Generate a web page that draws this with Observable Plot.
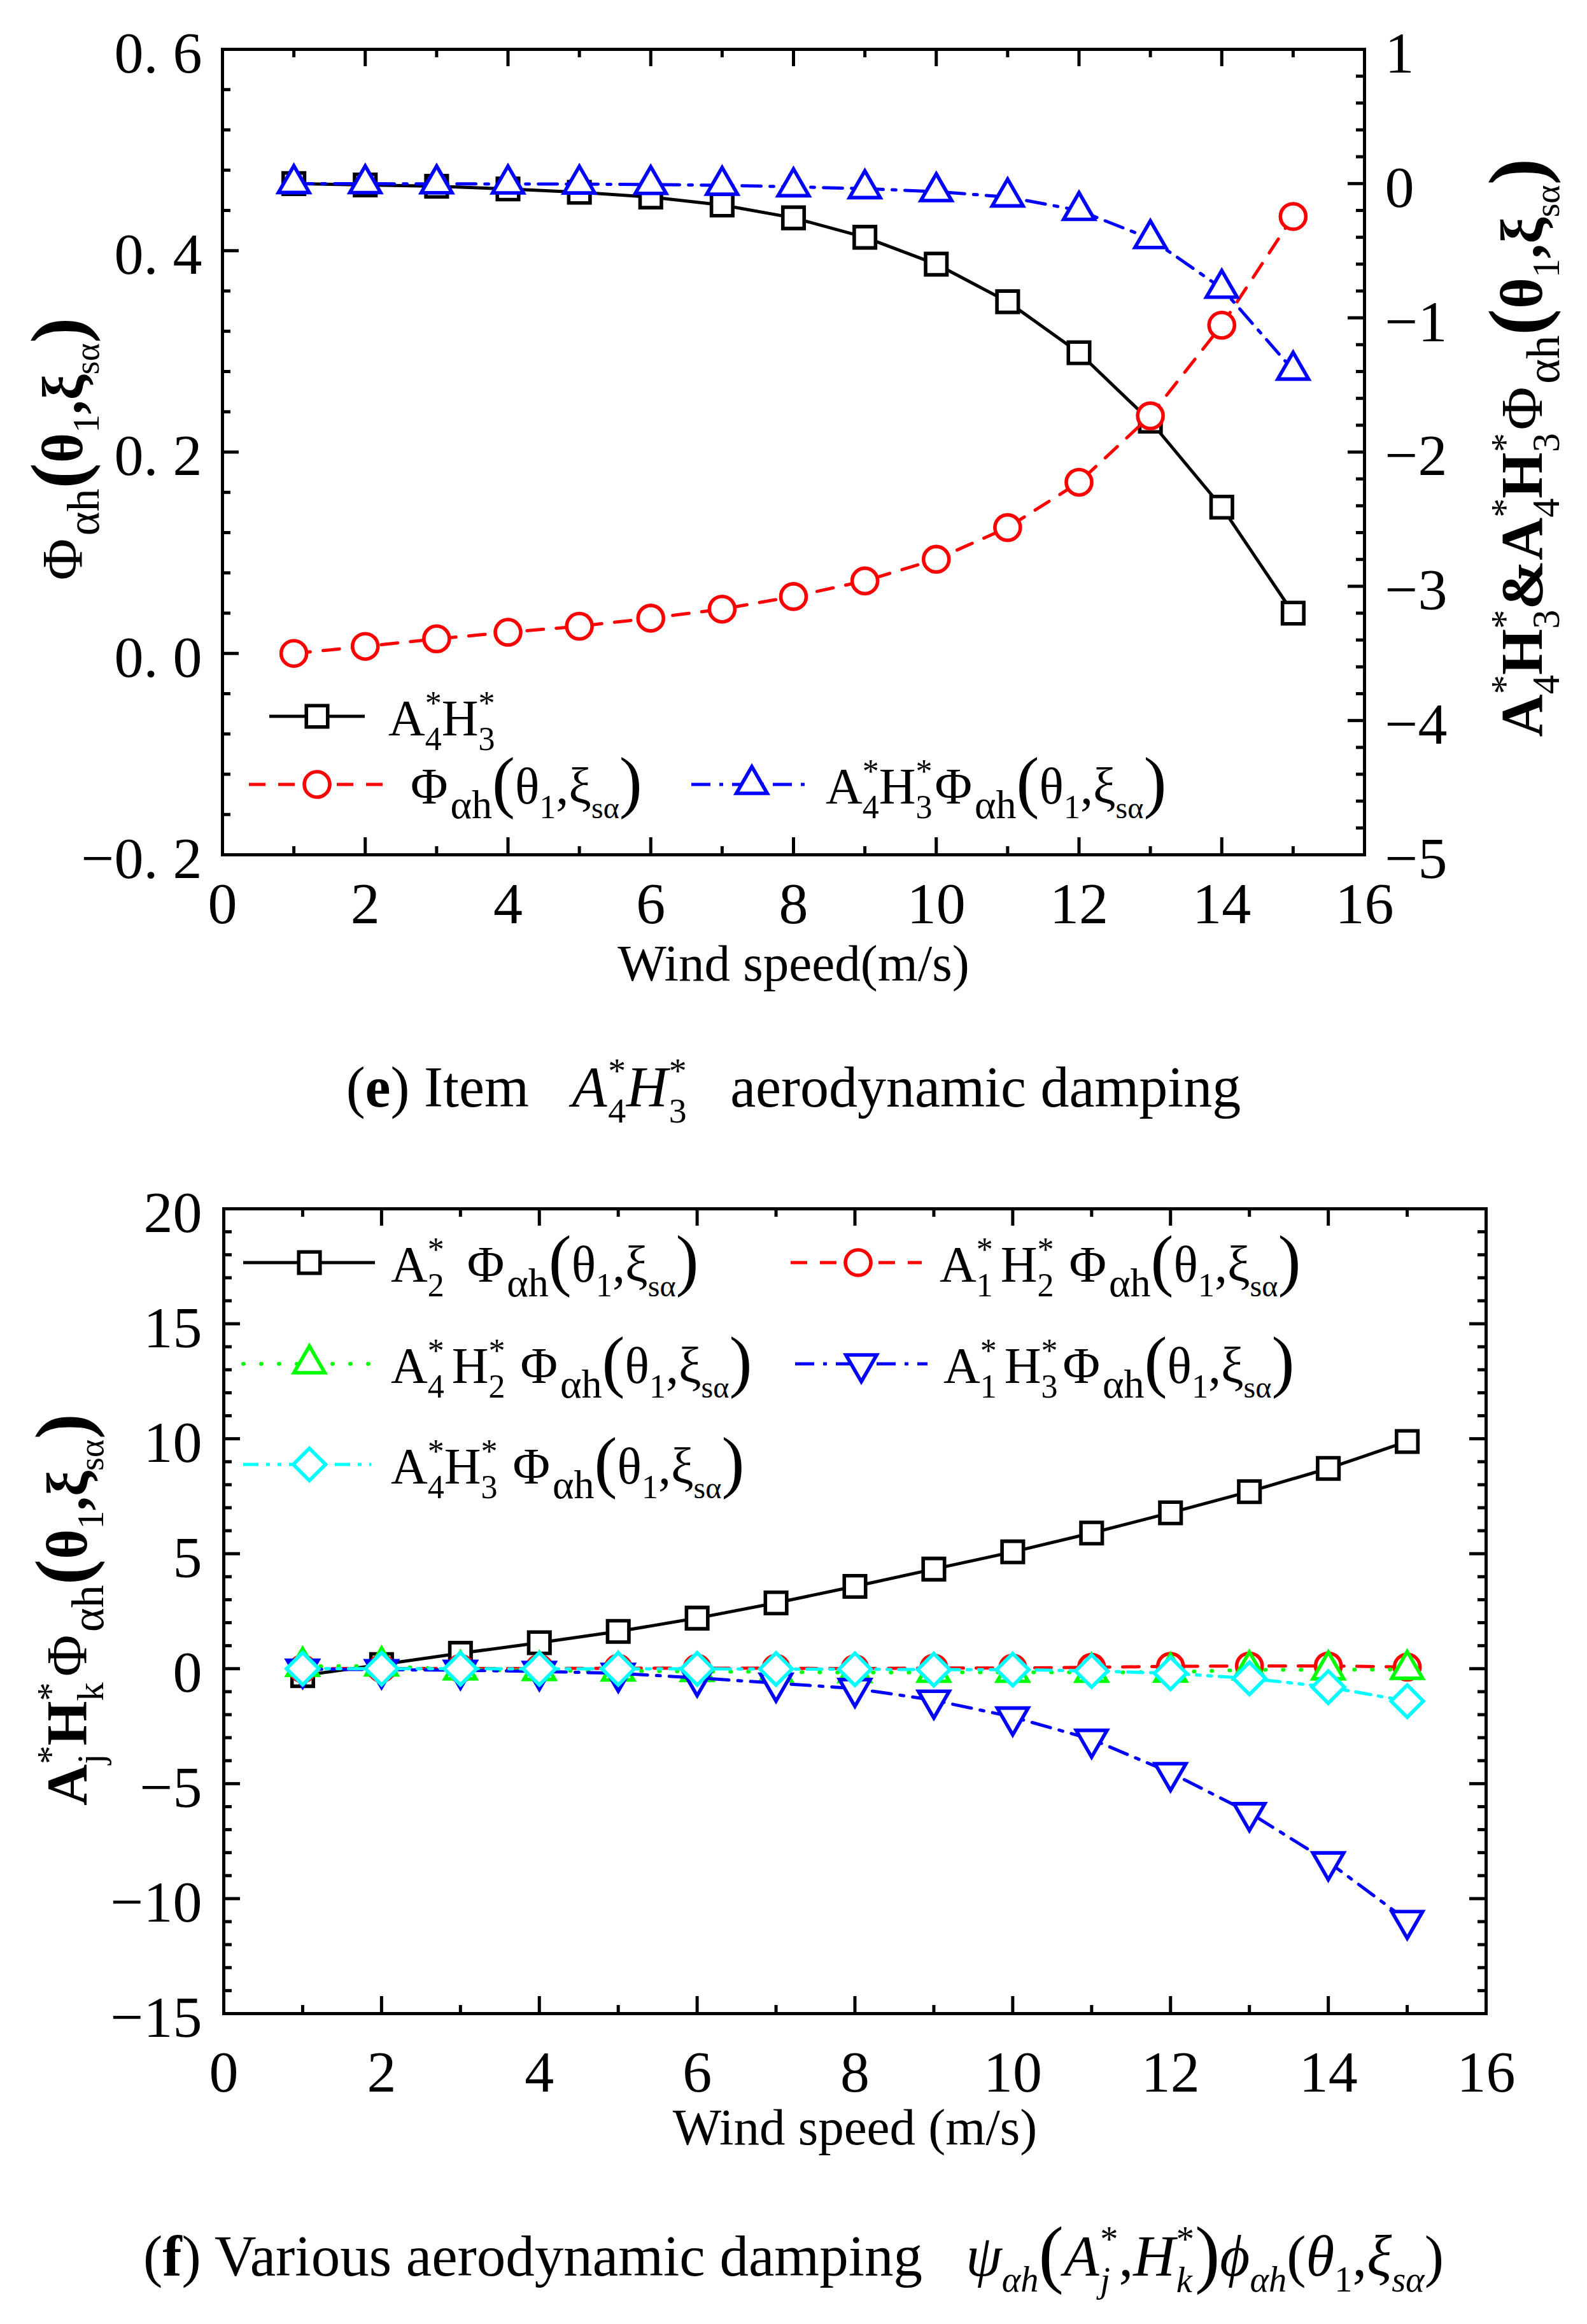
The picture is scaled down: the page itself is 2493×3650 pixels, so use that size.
<!DOCTYPE html>
<html>
<head>
<meta charset="utf-8">
<title>Aerodynamic damping</title>
<script src="https://cdn.jsdelivr.net/npm/d3@7"></script>
<script src="https://cdn.jsdelivr.net/npm/@observablehq/plot@0.6"></script>
<style>
  html, body { margin: 0; padding: 0; background: #ffffff; }
  body { width: 2493px; font-family: "Liberation Serif", "Times New Roman", serif; color: #000; }
  #chartE svg, #chartF svg { display: block; }
  .cap { width: 2493px; display: flex; align-items: center; justify-content: center; white-space: nowrap; line-height: 1; }
  #capE { height: 200px; font-size: 90px; }
  #capF { height: 230px; font-size: 91px; }
  .ss { display: inline-block; position: relative; width: 0.34em; height: 1em; }
  .ss .u { position: absolute; left: 0.03em; top: 0.11em; font-size: 0.62em; line-height: 1; font-style: normal; }
  .ss .d { position: absolute; left: 0.03em; top: 1.24em; font-size: 0.62em; line-height: 1; }
  .sb { font-size: 0.62em; position: relative; top: 0.45em; }
  .bg { font-size: 1.3em; position: relative; top: 0.04em; }
</style>
</head>
<body>
<div id="chartE"></div>
<div class="cap" id="capE"><span>(<b>e</b>) Item&nbsp;&nbsp; <i>A</i><span class="ss"><span class="u">*</span><span class="d">4</span></span><i>H</i><span class="ss"><span class="u">*</span><span class="d">3</span></span>&nbsp;&nbsp; aerodynamic damping</span></div>
<div id="chartF"></div>
<div class="cap" id="capF"><span>(<b>f</b>) Various aerodynamic damping&nbsp;&nbsp; <i>ψ</i><span class="sb"><i>αh</i></span><span class="bg">(</span><i>A</i><span class="ss"><span class="u">*</span><span class="d"><i>j</i></span></span>,<i>H</i><span class="ss"><span class="u">*</span><span class="d"><i>k</i></span></span><span class="bg">)</span><i>ϕ</i><span class="sb"><i>αh</i></span>(<i>θ</i><span class="sb">1</span>,<i>ξ</i><span class="sb"><i>sα</i></span>)</span></div>
<script>
// ---------------- data: panel (e) ----------------
const windSpeed = [1, 2, 3, 4, 5, 6, 7, 8, 9, 10, 11, 12, 13, 14, 15];
// A4*H3* (right axis)
const a4h3 = [0.0, -0.01, -0.02, -0.04, -0.065, -0.10, -0.16, -0.255, -0.40, -0.60, -0.88, -1.26, -1.77, -2.41, -3.20];
// phi_ah(theta1, xi_sa) (left axis)
const phiAh = [0.0, 0.007, 0.0145, 0.021, 0.027, 0.035, 0.044, 0.0565, 0.072, 0.0935, 0.125, 0.170, 0.236, 0.326, 0.434];
// A4*H3* phi_ah (right axis)
const a4h3Phi = [0.0, -0.001, -0.002, -0.003, -0.004, -0.007, -0.013, -0.024, -0.038, -0.06, -0.10, -0.20, -0.41, -0.78, -1.39];

// ---------------- data: panel (f) ----------------
const a2Phi   = [-0.3, 0.18, 0.67, 1.13, 1.62, 2.2, 2.86, 3.58, 4.33, 5.08, 5.9, 6.78, 7.7, 8.71, 9.88];
const a1h2Phi = [0.0, 0.01, 0.01, 0.01, 0.02, 0.02, 0.02, 0.0, 0.03, 0.03, 0.06, 0.1, 0.12, 0.12, 0.07];
const a4h2Phi = [0.1, 0.12, -0.05, -0.08, -0.1, -0.12, -0.14, -0.17, -0.16, -0.16, -0.16, -0.15, -0.05, -0.05, -0.03];
const a1h3Phi = [-0.02, -0.04, -0.07, -0.12, -0.2, -0.4, -0.63, -0.86, -1.37, -2.1, -3.07, -4.52, -6.26, -8.4, -10.95];
const a4h3PhiF = [0.0, -0.001, -0.002, -0.003, -0.005, -0.008, -0.014, -0.025, -0.04, -0.04, -0.1, -0.2, -0.42, -0.8, -1.41];

// ---------------- ticks ----------------
const xTicks = [0, 2, 4, 6, 8, 10, 12, 14, 16];
const xTickLabels = ["0", "2", "4", "6", "8", "10", "12", "14", "16"];
const xMinorTicks = [1, 3, 5, 7, 9, 11, 13, 15];
const eLeftTicks = [-0.2, 0, 0.2, 0.4, 0.6];
const eLeftTickLabels = ["\u22120. 2", "0. 0", "0. 2", "0. 4", "0. 6"];
const eRightTicks = [-5, -4, -3, -2, -1, 0, 1];
const eRightTickLabels = ["\u22125", "\u22124", "\u22123", "\u22122", "\u22121", "0", "1"];
const fYTicks = [-15, -10, -5, 0, 5, 10, 15, 20];
const fYTickLabels = ["\u221215", "\u221210", "\u22125", "0", "5", "10", "15", "20"];
const eLeftMinor = d3.range(0, 21).filter(i => i % 5 !== 0).map(i => -0.2 + i * 0.04);
const eRightMinor = d3.range(0, 31).filter(i => i % 5 !== 0).map(i => -5 + i * 0.2);
const fYMinor = d3.range(-15, 21).filter(v => v % 5 !== 0);

// ---------------- style ----------------
const SW = 5;       // line / frame width
const MSW = 5.6;    // marker outline width
const FS_TICK = 92;
const FS_LAB = 81;
const FS_LEG = 80;
const FS_AX = 90;
const FONT = "'Liberation Serif', 'Times New Roman', serif";
const BLACK = "#000000", RED = "#ff0000", GREEN = "#00ff00", BLUE = "#0000ff", CYAN = "#00ffff";

const triDown = {
  draw(context, size) {
    const y = -Math.sqrt(size / (Math.sqrt(3) * 3));
    context.moveTo(0, -y * 2);
    context.lineTo(-Math.sqrt(3) * y, y);
    context.lineTo(Math.sqrt(3) * y, y);
    context.closePath();
  }
};

const KIND = {n: [1, 0], sub: [0.65, 0.29], sup: [0.65, -0.41], sub2: [0.8, 0.29], sub3: [0.6, 0.29], big: [1.35, 0.03]};
function addRich(g, segs, fs, attrs) {
  const t = g.append("text").attr("font-size", fs).attr("fill", "#000").attr("font-family", FONT).attr("text-anchor", "start");
  Object.entries(attrs).forEach(([k, v]) => t.attr(k, v));
  let cur = 0;
  for (const s of segs) {
    const [size, shift] = KIND[s.k || "n"];
    const sh = shift * fs;
    const sp = t.append("tspan").attr("font-size", (size * fs).toFixed(2)).attr("dy", (sh - cur).toFixed(2)).text(s.t);
    if (s.dx) sp.attr("dx", (s.dx * fs).toFixed(2));
    if (s.b) sp.attr("font-weight", "bold");
    cur = sh;
  }
  return t;
}
const AH = (a, h, o = {}) => [
  {t: "A", b: o.b}, {t: a, k: "sub"}, {t: "*", k: "sup", dx: -0.325},
  {t: "H", b: o.b, dx: o.g1 || 0}, {t: h, k: "sub"}, {t: "*", k: "sup", dx: -0.325}
];
const phiPart = (o = {}) => [
  {t: "\u03A6", dx: o.g || 0}, {t: "\u03B1h", k: "sub2", dx: 0.05},
  {t: "(", k: "big", b: o.b}, {t: "\u03B8", b: o.b}, {t: "1", k: "sub"}, {t: ",", b: o.b},
  {t: "\u03BE", b: o.b}, {t: "s\u03B1", k: "sub3"}, {t: ")", k: "big", b: o.b}
];

function legendItem(g, it) {
  g.append("line")
    .attr("x1", it.x1).attr("x2", it.x2).attr("y1", it.y).attr("y2", it.y)
    .attr("stroke", it.color).attr("stroke-width", it.sw || SW)
    .attr("stroke-dasharray", it.dash || null).attr("stroke-linecap", it.cap || "butt");
  g.append("path")
    .attr("transform", `translate(${it.mx},${it.y})`)
    .attr("d", d3.symbol(it.symbol, Math.PI * it.r * it.r)())
    .attr("fill", "#fff").attr("stroke", it.color).attr("stroke-width", MSW);
  addRich(g, it.segs, FS_LEG, {x: it.tx, y: it.y + 30});
}

function xTickMarks(fh) {
  const o = {stroke: BLACK, strokeWidth: SW};
  return [
    Plot.tickX(xTicks, {x: d => d, insetTop: fh - 27, ...o}),
    Plot.tickX(xTicks, {x: d => d, insetBottom: fh - 27, ...o}),
    Plot.tickX(xMinorTicks, {x: d => d, insetTop: fh - 13, ...o}),
    Plot.tickX(xMinorTicks, {x: d => d, insetBottom: fh - 13, ...o})
  ];
}

// ================= panel (e) =================
const eW = 2493, eH = 1600;
const eM = {top: 77, right: 350, bottom: 258, left: 349};
const eFW = eW - eM.left - eM.right;
const eFH = eH - eM.top - eM.bottom;
const toLeft = d3.scaleLinear([-5, 1], [-0.2, 0.6]);
const eRightPos = eRightTicks.map(v => toLeft(v));
const eRows = windSpeed.map((x, i) => ({x, a4h3: a4h3[i], phi: phiAh[i], prod: a4h3Phi[i]}));

const svgE = Plot.plot({
  width: eW, height: eH,
  marginTop: eM.top, marginRight: eM.right, marginBottom: eM.bottom, marginLeft: eM.left,
  x: {domain: [0, 16]},
  y: {domain: [-0.2, 0.6]},
  style: {fontFamily: FONT, background: "#fff", color: "#000", overflow: "visible"},
  marks: [
    ...xTickMarks(eFH),
    Plot.tickY(eLeftTicks, {y: d => d, insetRight: eFW - 26, stroke: BLACK, strokeWidth: SW}),
    Plot.tickY(eLeftMinor, {y: d => d, insetRight: eFW - 13, stroke: BLACK, strokeWidth: SW}),
    Plot.tickY(eRightPos, {y: d => d, insetLeft: eFW - 26, stroke: BLACK, strokeWidth: SW}),
    Plot.tickY(eRightMinor.map(v => toLeft(v)), {y: d => d, insetLeft: eFW - 13, stroke: BLACK, strokeWidth: SW}),
    Plot.frame({stroke: BLACK, strokeWidth: SW}),
    Plot.axisX({ticks: xTicks, tickFormat: d => xTickLabels[xTicks.indexOf(d)], tickSize: 0, tickPadding: 42, fontSize: FS_TICK, label: null}),
    Plot.axisY({ticks: eLeftTicks, tickFormat: d => eLeftTickLabels[eLeftTicks.indexOf(d)], tickSize: 0, tickPadding: 32, fontSize: FS_TICK, dy: 7, label: null}),
    Plot.axisY({anchor: "right", ticks: eRightPos, tickFormat: d => eRightTickLabels[eRightPos.indexOf(d)], tickSize: 0, tickPadding: 32, fontSize: FS_TICK, dy: 7, label: null}),
    Plot.lineY(eRows, {x: "x", y: d => toLeft(d.a4h3), stroke: BLACK, strokeWidth: SW}),
    Plot.dot(eRows, {x: "x", y: d => toLeft(d.a4h3), symbol: "square", r: 18.9, stroke: BLACK, fill: "#fff", strokeWidth: MSW}),
    Plot.lineY(eRows, {x: "x", y: "phi", stroke: RED, strokeWidth: SW, strokeDasharray: "26,20"}),
    Plot.dot(eRows, {x: "x", y: "phi", symbol: "circle", r: 20, stroke: RED, fill: "#fff", strokeWidth: MSW}),
    Plot.lineY(eRows, {x: "x", y: d => toLeft(d.prod), stroke: BLUE, strokeWidth: SW, strokeDasharray: "30,14,6,14"}),
    Plot.dot(eRows, {x: "x", y: d => toLeft(d.prod), symbol: "triangle", r: 18, stroke: BLUE, fill: "#fff", strokeWidth: MSW}),
    Plot.text(["Wind speed(m/s)"], {text: d => d, frameAnchor: "bottom", lineAnchor: "middle", dy: 172, fontSize: FS_LAB})
  ]
});
document.getElementById("chartE").appendChild(svgE);

const gE = d3.select(svgE).append("g").attr("class", "legend-e");
legendItem(gE, {y: 1125, x1: 423, x2: 573, mx: 498, color: BLACK, symbol: d3.symbolSquare, r: 18.9, tx: 610, segs: AH("4", "3")});
legendItem(gE, {y: 1232, x1: 391, x2: 602, mx: 498, color: RED, dash: "26,20", symbol: d3.symbolCircle, r: 20, tx: 645, segs: phiPart({})});
legendItem(gE, {y: 1232, x1: 1086, x2: 1275, mx: 1181, color: BLUE, dash: "30,14,6,14", symbol: d3.symbolTriangle, r: 18, tx: 1297, segs: [...AH("4", "3"), ...phiPart({g: 0.05})]});
const gEA = d3.select(svgE).append("g").attr("class", "axis-labels-e");
addRich(gEA, phiPart({b: true}), FS_AX, {"text-anchor": "middle", transform: "translate(129,705) rotate(-90)"});
addRich(gEA, [...AH("4", "3", {b: true}), {t: "&", b: true}, ...AH("4", "3", {b: true}), ...phiPart({b: true, g: 0.05})], 93, {"text-anchor": "middle", transform: "translate(2422,703) rotate(-90)"});

// ================= panel (f) =================
const fW = 2493, fH = 1620;
const fM = {top: 98, right: 159, bottom: 258, left: 351};
const fFW = fW - fM.left - fM.right;
const fFH = fH - fM.top - fM.bottom;
const fRows = windSpeed.map((x, i) => ({x, a2: a2Phi[i], a1h2: a1h2Phi[i], a4h2: a4h2Phi[i], a1h3: a1h3Phi[i], a4h3: a4h3PhiF[i]}));

const svgF = Plot.plot({
  width: fW, height: fH,
  marginTop: fM.top, marginRight: fM.right, marginBottom: fM.bottom, marginLeft: fM.left,
  x: {domain: [0, 16]},
  y: {domain: [-15, 20]},
  style: {fontFamily: FONT, background: "#fff", color: "#000", overflow: "visible"},
  marks: [
    ...xTickMarks(fFH),
    Plot.tickY(fYTicks, {y: d => d, insetRight: fFW - 26, stroke: BLACK, strokeWidth: SW}),
    Plot.tickY(fYMinor, {y: d => d, insetRight: fFW - 13, stroke: BLACK, strokeWidth: SW}),
    Plot.tickY(fYTicks, {y: d => d, insetLeft: fFW - 26, stroke: BLACK, strokeWidth: SW}),
    Plot.tickY(fYMinor, {y: d => d, insetLeft: fFW - 13, stroke: BLACK, strokeWidth: SW}),
    Plot.frame({stroke: BLACK, strokeWidth: SW}),
    Plot.axisX({ticks: xTicks, tickFormat: d => xTickLabels[xTicks.indexOf(d)], tickSize: 0, tickPadding: 57, fontSize: FS_TICK, label: null}),
    Plot.axisY({ticks: fYTicks, tickFormat: d => fYTickLabels[fYTicks.indexOf(d)], tickSize: 0, tickPadding: 34, fontSize: FS_TICK, dy: 7, label: null}),
    Plot.lineY(fRows, {x: "x", y: "a2", stroke: BLACK, strokeWidth: SW}),
    Plot.dot(fRows, {x: "x", y: "a2", symbol: "square", r: 18.9, stroke: BLACK, fill: "#fff", strokeWidth: MSW}),
    Plot.lineY(fRows, {x: "x", y: "a1h2", stroke: RED, strokeWidth: SW, strokeDasharray: "26,20"}),
    Plot.dot(fRows, {x: "x", y: "a1h2", symbol: "circle", r: 20, stroke: RED, fill: "#fff", strokeWidth: MSW}),
    Plot.lineY(fRows, {x: "x", y: "a4h2", stroke: GREEN, strokeWidth: 6, strokeDasharray: "1,27", strokeLinecap: "round"}),
    Plot.dot(fRows, {x: "x", y: "a4h2", symbol: "triangle", r: 18, stroke: GREEN, fill: "#fff", strokeWidth: MSW}),
    Plot.lineY(fRows, {x: "x", y: "a1h3", stroke: BLUE, strokeWidth: SW, strokeDasharray: "30,14,6,14"}),
    Plot.dot(fRows, {x: "x", y: "a1h3", symbol: triDown, r: 18, stroke: BLUE, fill: "#fff", strokeWidth: MSW}),
    Plot.lineY(fRows, {x: "x", y: "a4h3", stroke: CYAN, strokeWidth: SW, strokeDasharray: "24,12,6,12,6,12"}),
    Plot.dot(fRows, {x: "x", y: "a4h3", symbol: "diamond2", r: 22.8, stroke: CYAN, fill: "#fff", strokeWidth: MSW}),
    Plot.text(["Wind speed (m/s)"], {text: d => d, frameAnchor: "bottom", lineAnchor: "middle", dy: 180, fontSize: FS_LAB})
  ]
});
document.getElementById("chartF").appendChild(svgF);

const gF = d3.select(svgF).append("g").attr("class", "legend-f");
legendItem(gF, {y: 183, x1: 382, x2: 589, mx: 486, color: BLACK, symbol: d3.symbolSquare, r: 18.9, tx: 614,
  segs: [{t: "A"}, {t: "2", k: "sub"}, {t: "*", k: "sup", dx: -0.325}, ...phiPart({g: 0.45})]});
legendItem(gF, {y: 183, x1: 1242, x2: 1448, mx: 1348, color: RED, dash: "26,20", symbol: d3.symbolCircle, r: 20, tx: 1476,
  segs: [...AH("1", "2", {g1: 0.15}), ...phiPart({g: 0.3})]});
legendItem(gF, {y: 342, x1: 382, x2: 589, mx: 486, color: GREEN, dash: "1,27", cap: "round", sw: 6, symbol: d3.symbolTriangle, r: 18, tx: 614,
  segs: [...AH("4", "2", {g1: 0.15}), ...phiPart({g: 0.3})]});
legendItem(gF, {y: 342, x1: 1249, x2: 1457, mx: 1353, color: BLUE, dash: "30,14,6,14", symbol: triDown, r: 18, tx: 1482,
  segs: [...AH("1", "3", {g1: 0.15}), ...phiPart({g: 0.1})]});
legendItem(gF, {y: 500, x1: 382, x2: 583, mx: 486, color: CYAN, dash: "24,12,6,12,6,12", symbol: d3.symbolDiamond2, r: 22.8, tx: 614,
  segs: [...AH("4", "3"), ...phiPart({g: 0.3})]});
const gFA = d3.select(svgF).append("g").attr("class", "axis-labels-f");
addRich(gFA, [{t: "A", b: true}, {t: "j", k: "sub"}, {t: "*", k: "sup", dx: -0.18}, {t: "H", b: true}, {t: "k", k: "sub"}, {t: "*", k: "sup", dx: -0.325}, ...phiPart({b: true, g: 0.1})],
  FS_AX, {"text-anchor": "middle", transform: "translate(136,728) rotate(-90)"});
</script>
</body>
</html>
